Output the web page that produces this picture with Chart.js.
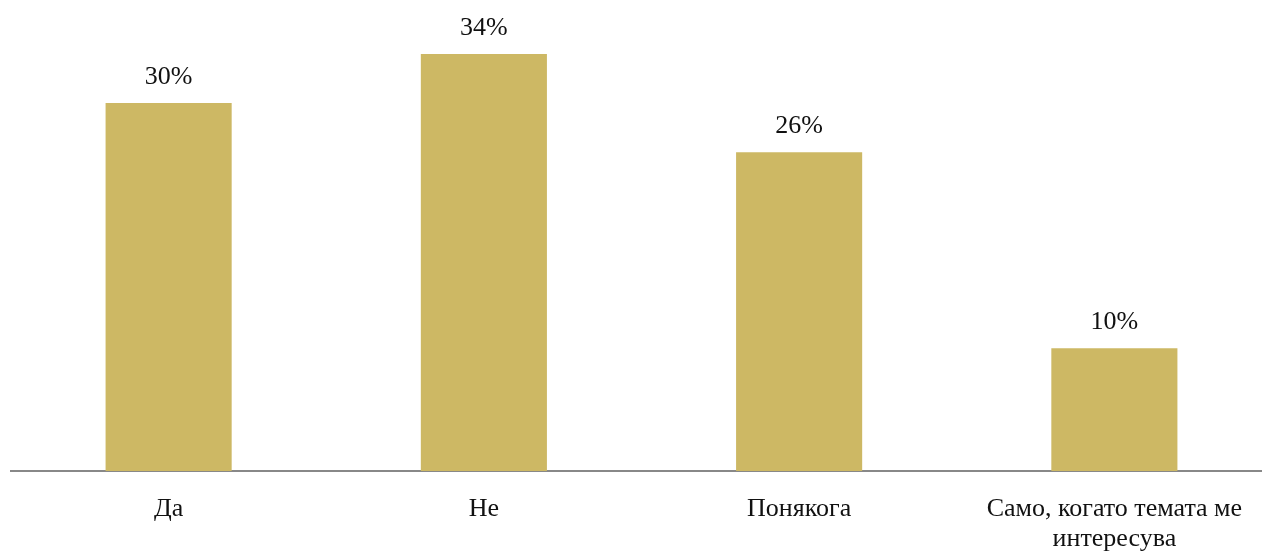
<!DOCTYPE html>
<html>
<head>
<meta charset="utf-8">
<script src="https://cdn.jsdelivr.net/npm/chart.js@4/dist/chart.umd.min.js"></script>
<style>
  html, body { margin: 0; padding: 0; background: #fff; overflow: hidden; }
  #wrap { width: 1272px; height: 551px; position: relative; }
</style>
</head>
<body>
<div id="wrap"><canvas id="chart"></canvas></div>
<script>
// data
const categories = ['Да', 'Не', 'Понякога', ['Само, когато темата ме', 'интересува']];
const values = [30, 34, 26, 10];
const valueLabels = ['30%', '34%', '26%', '10%'];

const barColor = '#CDB864';
const fontFamily = '"Liberation Serif", "DejaVu Serif", serif';

/* Draw value labels above bars */
const valueLabelPlugin = {
  id: 'valueLabels',
  afterDatasetsDraw(chart) {
    const ctx = chart.ctx;
    const meta = chart.getDatasetMeta(0);
    ctx.save();
    ctx.font = '26px ' + fontFamily;
    ctx.fillStyle = '#111';
    ctx.textAlign = 'center';
    ctx.textBaseline = 'alphabetic';
    meta.data.forEach((bar, i) => {
      ctx.fillText(valueLabels[i], bar.x, bar.y - 19);
    });
    ctx.restore();
  }
};

new Chart(document.getElementById('chart').getContext('2d'), {
  type: 'bar',
  data: {
    labels: categories,
    datasets: [{
      data: values,
      backgroundColor: barColor,
      borderWidth: 0,
      barPercentage: 0.4,
      categoryPercentage: 1
    }]
  },
  options: {
    responsive: true,
    maintainAspectRatio: false,
    animation: false,
    layout: { padding: { left: 11, right: 0, top: 5, bottom: 0 } },
    plugins: {
      legend: { display: false },
      tooltip: { enabled: false }
    },
    scales: {
      y: {
        display: false,
        min: 0,
        max: 38
      },
      x: {
        grid: { display: false, drawTicks: false },
        border: { display: true, color: '#888', width: 2 },
        afterFit: (scale) => { scale.height = 80; },
        ticks: {
          color: '#111',
          padding: 23,
          maxRotation: 0,
          autoSkip: false,
          font: { family: fontFamily, size: 26, lineHeight: 1.15 }
        }
      }
    }
  },
  plugins: [valueLabelPlugin]
});
</script>
</body>
</html>
